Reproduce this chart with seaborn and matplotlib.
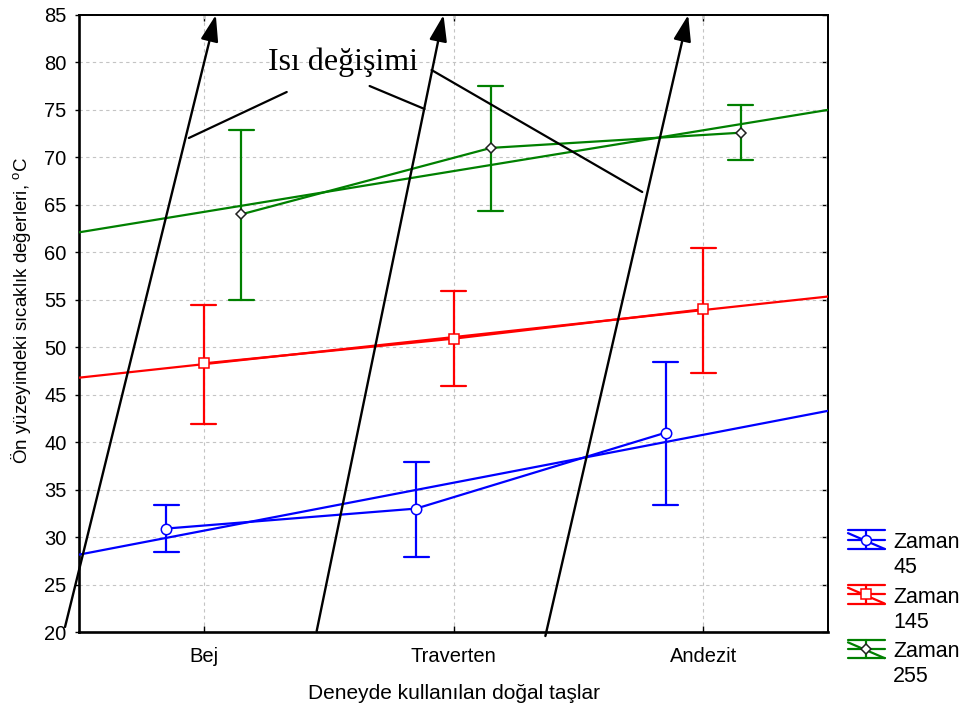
import numpy as np
import pandas as pd
import matplotlib
matplotlib.use("Agg")
import matplotlib.pyplot as plt
import seaborn as sns
from matplotlib.lines import Line2D
from matplotlib.legend_handler import HandlerBase

# ---------------- data ----------------
stones = ["Bej", "Traverten", "Andezit"]
zaman_levels = ["45", "145", "255"]
legend_labels = ["Zaman\n45", "Zaman\n145", "Zaman\n255"]

mean_45 = [30.9, 33.0, 41.0]
low_45 = [28.4, 27.9, 33.4]
high_45 = [33.4, 37.9, 48.4]

mean_145 = [48.3, 50.9, 54.0]
low_145 = [41.9, 45.9, 47.3]
high_145 = [54.5, 55.9, 60.5]

mean_255 = [64.0, 71.0, 72.6]
low_255 = [55.0, 64.4, 69.7]
high_255 = [72.9, 77.5, 75.5]

y_ticks = list(range(20, 90, 5))
annot_text = "Isı değişimi"
x_title = "Deneyde kullanılan doğal taşlar"
y_title = "Ön yüzeyindeki sıcaklık değerleri, $^{\\mathrm{o}}$C"

# ---------------- style ----------------
sns.set_style("white")
plt.rcParams["font.family"] = ["Liberation Sans", "DejaVu Sans"]
plt.rcParams["mathtext.fontset"] = "custom"
plt.rcParams["mathtext.rm"] = "Liberation Sans"
plt.rcParams["mathtext.it"] = "Liberation Sans:italic"
plt.rcParams["mathtext.bf"] = "Liberation Sans:bold"
for key in ("text.color", "axes.labelcolor", "xtick.color", "ytick.color"):
    plt.rcParams[key] = "black"

colors = ["#0000ff", "#ff0000", "#008000"]
markers = ["o", "s", "D"]
msizes = [7.5, 7.0, 5.0]
medges = ["#0000ff", "#ff0000", "#202020"]
TICK_FS = 14.5

means = [mean_45, mean_145, mean_255]
lows = [low_45, low_145, low_255]
highs = [high_45, high_145, high_255]

rows = []
for z, m, lo, hi in zip(zaman_levels, means, lows, highs):
    for s, mm, l, h in zip(stones, m, lo, hi):
        for v in (l, mm, h):
            rows.append({"stone": s, "zaman": z, "value": v})
df = pd.DataFrame(rows)

fig = plt.figure(figsize=(9.63, 7.11), dpi=100)
ax = fig.add_axes([79 / 963, 1 - 632 / 711, (828 - 79) / 963, (632 - 15) / 711])

sns.pointplot(
    data=df, x="stone", y="value", hue="zaman",
    order=stones, hue_order=zaman_levels, palette=colors,
    markers=markers, estimator="median",
    errorbar=lambda v: (np.min(v), np.max(v)),
    dodge=0.3, capsize=0.1, linewidth=1.6,
    err_kws={"linewidth": 1.6}, legend=False, ax=ax,
)

# style the mean lines / markers
k = 0
for ln in ax.lines:
    mk = ln.get_marker()
    if mk not in ("None", "", None, " "):
        ln.set_markerfacecolor("white")
        ln.set_markeredgecolor(medges[k])
        ln.set_markersize(msizes[k])
        ln.set_markeredgewidth(1.1)
        ln.set_zorder(5)
        k += 1

ax.set_xlim(-0.5, 2.5)
ax.set_ylim(20, 85)

# regression lines through dodged means
offsets = np.linspace(-0.15, 0.15, len(zaman_levels))
for off, m, c in zip(offsets, means, colors):
    pos = np.arange(len(stones)) + off
    sns.regplot(x=pos, y=np.array(m), ci=None, truncate=False, scatter=False,
                color=c, line_kws={"lw": 1.6, "zorder": 4}, ax=ax)

ax.set_xlim(-0.5, 2.5)
ax.set_ylim(20, 85)

# grid, spines, ticks
ax.set_axisbelow(True)
ax.grid(True, ls=(0, (3, 3)), color="#c4c4c4", lw=0.8)
for side, lw in (("left", 1.9), ("bottom", 1.9), ("top", 1.4), ("right", 1.4)):
    ax.spines[side].set_visible(True)
    ax.spines[side].set_color("black")
    ax.spines[side].set_linewidth(lw)
ax.set_yticks(y_ticks)
ax.tick_params(axis="y", direction="out", length=3, width=1, pad=6, labelsize=TICK_FS, left=True)
ax.tick_params(axis="x", direction="in", length=4, width=1, pad=11, labelsize=TICK_FS, bottom=True)
secx = ax.secondary_xaxis("top")
secx.set_xticks(range(len(stones)))
secx.tick_params(direction="in", length=4, width=1, labeltop=False)
secx.spines["top"].set_linewidth(1.4)
secy = ax.secondary_yaxis("right")
secy.set_yticks(y_ticks)
secy.tick_params(direction="in", length=4, width=1, labelright=False)
secy.spines["right"].set_linewidth(1.4)

ax.set_xlabel(x_title, fontsize=15, labelpad=13)
ax.set_ylabel(y_title, fontsize=13.5)
ax.yaxis.set_label_coords(-0.062, 0.522)

# ---------------- annotations ----------------
def px2data(px, py):
    return ((px - 203) / 250.0, 20 + (632 - py) / (617 / 65.0))

arrows = [((64, 627), (215, 15)), ((316, 631), (443, 15)), ((545, 636), (688, 15))]
for tail, head in arrows:
    ax.annotate("", xy=px2data(*head), xytext=px2data(*tail),
                arrowprops=dict(arrowstyle="-|>,head_length=0.8,head_width=0.27",
                                mutation_scale=20, lw=1.7, color="black",
                                shrinkA=0, shrinkB=0),
                annotation_clip=False, zorder=6)

pointers = [((286, 92), (188, 138)), ((369, 86), (424, 109)), ((431, 70), (642, 192))]
for a, b in pointers:
    pa, pb = px2data(*a), px2data(*b)
    ax.plot([pa[0], pb[0]], [pa[1], pb[1]], color="black", lw=1.6, zorder=6)

tx, ty = px2data(342, 70)
ax.text(tx, ty, annot_text, fontsize=23, ha="center", va="baseline", color="black",
        family=["Liberation Serif", "DejaVu Serif"], zorder=7)

# ---------------- legend ----------------
class ErrHandler(HandlerBase):
    def __init__(self, yshift=0.0):
        super().__init__()
        self.yshift = yshift

    def create_artists(self, legend, orig_handle, xdescent, ydescent,
                       width, height, fontsize, trans):
        c = orig_handle.get_color()
        x0, x1 = -xdescent, -xdescent + width
        y0 = -ydescent + self.yshift
        y1 = y0 + height
        ym = (y0 + y1) / 2
        xm = (x0 + x1) / 2
        kw = dict(color=c, lw=1.6, transform=trans)
        arts = [
            Line2D([x0, x1], [y1, y1], **kw),
            Line2D([x0, x1], [y0, y0], **kw),
            Line2D([x0, x1], [ym, ym], **kw),
            Line2D([xm, xm], [y0, y1], **kw),
            Line2D([x0, x1], [y1 - 0.15 * height, y0], **kw),
            Line2D([xm], [ym], marker=orig_handle.get_marker(), ls="none",
                   markerfacecolor="white",
                   markeredgecolor=orig_handle.get_markeredgecolor(),
                   markersize=orig_handle.get_markersize(),
                   markeredgewidth=1.1, transform=trans),
        ]
        return arts

LEG_FS = 15.5
handles = [Line2D([], [], color=c, marker=m, markersize=ms * 0.95, markeredgecolor=me)
           for c, m, ms, me in zip(colors, markers, msizes, medges)]
leg = fig.legend(handles, legend_labels, handler_map={Line2D: ErrHandler(yshift=11.5)},
                 loc="upper left", bbox_to_anchor=(848 / 963, 1 - 532 / 711),
                 frameon=False, fontsize=LEG_FS, handlelength=1.7, handleheight=0.95,
                 handletextpad=0.4, labelspacing=0.4, borderpad=0, borderaxespad=0)
for t in leg.get_texts():
    t.set_linespacing(1.25)

fig.savefig("out.png", dpi=100)
